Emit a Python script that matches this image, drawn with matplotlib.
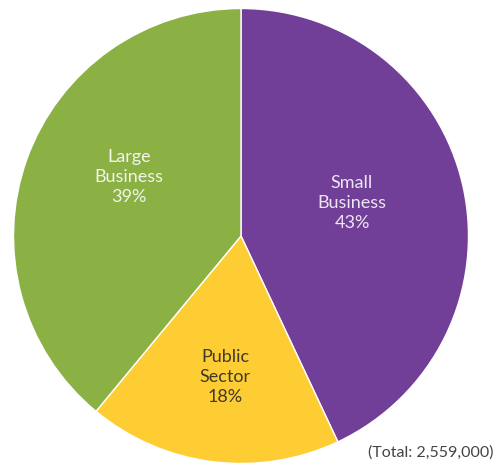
import matplotlib
matplotlib.use("Agg")
import matplotlib.pyplot as plt

categories = ["Small\nBusiness", "Public\nSector", "Large\nBusiness"]
values = [43, 18, 39]
colors = ["#723F98", "#FECD34", "#8BB043"]
text_colors = ["#EDE6F3", "#3F3A2A", "#F2F6EA"]
label_pos = [(352, 468 - 203), (225, 468 - 377), (129, 468 - 177)]
total_text = "(Total: 2,559,000)"

W, H = 497, 468
fig = plt.figure(figsize=(W / 100, H / 100), dpi=100)
ax = fig.add_axes([0, 0, 1, 1])
cx, cy, r = 241, 468 - 236, 227.5
wedges, _ = ax.pie(values, colors=colors, startangle=90, counterclock=False,
                   center=(cx, cy), radius=r,
                   wedgeprops=dict(edgecolor="white", linewidth=1.0))
ax.set_xlim(0, W)
ax.set_ylim(0, H)
ax.set_aspect("equal")
ax.axis("off")

for lab, v, (x, y), tc in zip(categories, values, label_pos, text_colors):
    ax.text(x, y, f"{lab}\n{v}%", ha="center", va="center", color=tc,
            fontsize=13, family="Lato", linespacing=1.28)

ax.text(493, 468 - 453, total_text, ha="right", va="center", color="#444444",
        fontsize=11.5, family="Lato")

fig.savefig("out.png", dpi=100)
